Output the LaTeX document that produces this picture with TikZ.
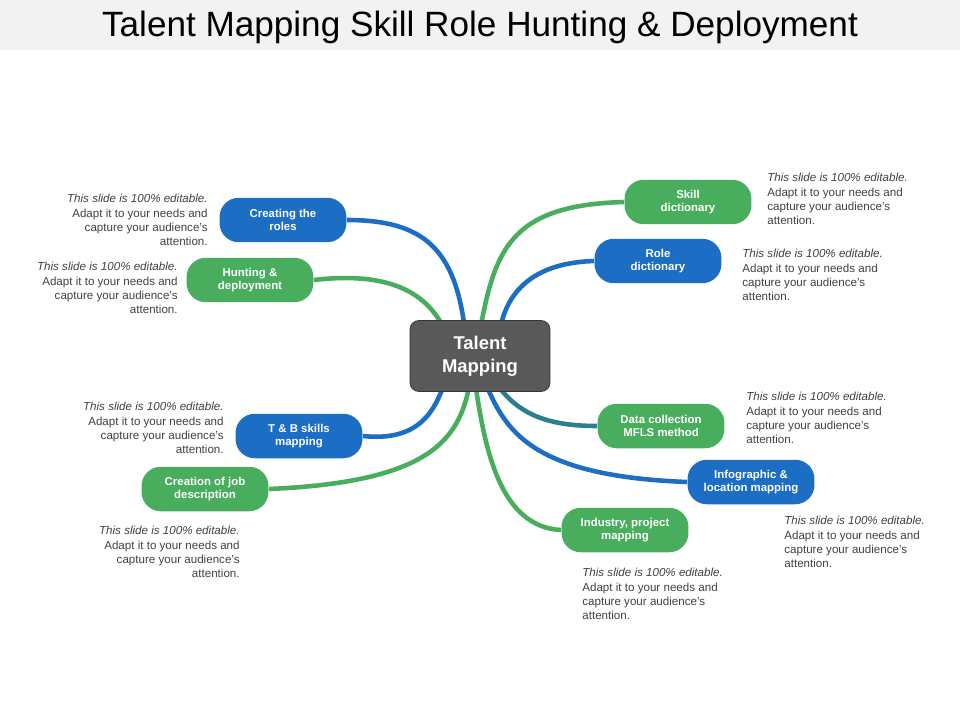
\documentclass[tikz,border=0pt]{standalone}
\usepackage{fontspec}
\setmainfont{Liberation Sans}
\usetikzlibrary{calc}
\usetikzlibrary{backgrounds}
\definecolor{pillblue}{HTML}{1C6DC4}
\definecolor{pillgreen}{HTML}{48AE5E}
\definecolor{linkteal}{HTML}{2A7F8F}
\definecolor{hubgray}{HTML}{595959}
\definecolor{notegray}{HTML}{404040}

\begin{document}
\begin{tikzpicture}[x=0.02cm, y=-0.02cm,
    pill/.style={rounded corners=11pt, minimum width=2.54cm, minimum height=0.89cm,
      text=white, font=\fontsize{6.5}{7.8}\selectfont\bfseries, align=center, inner sep=1pt},
    blue pill/.style={pill, fill=pillblue},
    green pill/.style={pill, fill=pillgreen},
    link/.style={line width=2.6pt},
    note/.style={font=\fontsize{6.6}{8.2}\selectfont, text=notegray, inner sep=0pt, anchor=north}]
            \useasboundingbox (0, 0) rectangle (960, 720);
            \fill[gray!10] (0, 0) rectangle (960, 50);
            \node (title) at (480, 27) {\fontsize{20}{24}\selectfont Talent Mapping Skill Role Hunting \& Deployment};
            \node[fill=hubgray, draw=black!80, rounded corners=5pt, minimum width=2.8cm, minimum height=1.42cm,
              text=white, align=center, font=\fontsize{10.5}{13}\selectfont\bfseries] (HUB) at (480, 356) {Talent\\Mapping};
            \node[blue pill] (ROLES) at (283, 220) {Creating the\\roles};
            \node[green pill] (HUNT) at (250, 280) {Hunting \&\\deployment};
            \node[blue pill] (TB) at (299, 436) {T \& B skills\\mapping};
            \node[green pill] (JOB) at (205, 489) {Creation of job\\description};
            \node[green pill] (SKILL) at (688, 202) {Skill\\dictionary};
            \node[blue pill] (ROLE) at (658, 261) {Role\\dictionary};
            \node[green pill] (DATA) at (661, 426) {Data collection\\MFLS method};
            \node[blue pill] (INFO) at (751, 482) {Infographic \&\\location mapping};
            \node[green pill] (IND) at (625, 530) {Industry, project\\mapping};
            \begin{scope}[on background layer]
            \draw[link, pillblue] (ROLES.east) .. controls (425, 220) and (455, 250) .. ($(HUB.north)+(-15, 10)$);
            \draw[link, pillgreen] (HUNT.east) .. controls (400, 270) and (430, 300) .. ($(HUB.north)+(-35, 10)$);
            \draw[link, pillblue] (TB.east) .. controls (420, 442) and (435, 410) .. ($(HUB.south)+(-35, -10)$);
            \draw[link, pillgreen] (JOB.east) .. controls (430, 482) and (460, 440) .. ($(HUB.south)+(-10, -10)$);
            \draw[link, pillgreen] (SKILL.west) .. controls (510, 205) and (495, 250) .. ($(HUB.north)+(0, 10)$);
            \draw[link, pillblue] (ROLE.west) .. controls (525, 263) and (505, 300) .. ($(HUB.north)+(20, 10)$);
            \draw[link, linkteal] (DATA.west) .. controls (540, 426) and (515, 410) .. ($(HUB.south)+(15, -10)$);
            \draw[link, pillblue] (INFO.west) .. controls (530, 476) and (505, 430) .. ($(HUB.south)+(5, -10)$);
            \draw[link, pillgreen] (IND.west) .. controls (500, 527) and (485, 450) .. ($(HUB.south)+(-5, -10)$);
            \end{scope}
            \node[note, anchor=north east, align=right] (n1) at (208, 194) {\textit{This slide is 100\% editable.}\\Adapt it to your needs and\\capture your audience's\\attention.};
            \node[note, anchor=north east, align=right] (n2) at (178, 262) {\textit{This slide is 100\% editable.}\\Adapt it to your needs and\\capture your audience's\\attention.};
            \node[note, anchor=north east, align=right] (n3) at (224, 402) {\textit{This slide is 100\% editable.}\\Adapt it to your needs and\\capture your audience's\\attention.};
            \node[note, anchor=north east, align=right] (n4) at (240, 526) {\textit{This slide is 100\% editable.}\\Adapt it to your needs and\\capture your audience's\\attention.};
            \node[note, anchor=north west, align=left] (n5) at (767, 173) {\textit{This slide is 100\% editable.}\\Adapt it to your needs and\\capture your audience's\\attention.};
            \node[note, anchor=north west, align=left] (n6) at (742, 249) {\textit{This slide is 100\% editable.}\\Adapt it to your needs and\\capture your audience's\\attention.};
            \node[note, anchor=north west, align=left] (n7) at (746, 392) {\textit{This slide is 100\% editable.}\\Adapt it to your needs and\\capture your audience's\\attention.};
            \node[note, anchor=north west, align=left] (n8) at (784, 516) {\textit{This slide is 100\% editable.}\\Adapt it to your needs and\\capture your audience's\\attention.};
            \node[note, anchor=north west, align=left] (n9) at (582, 568) {\textit{This slide is 100\% editable.}\\Adapt it to your needs and\\capture your audience's\\attention.};
        \end{tikzpicture}
\end{document}
